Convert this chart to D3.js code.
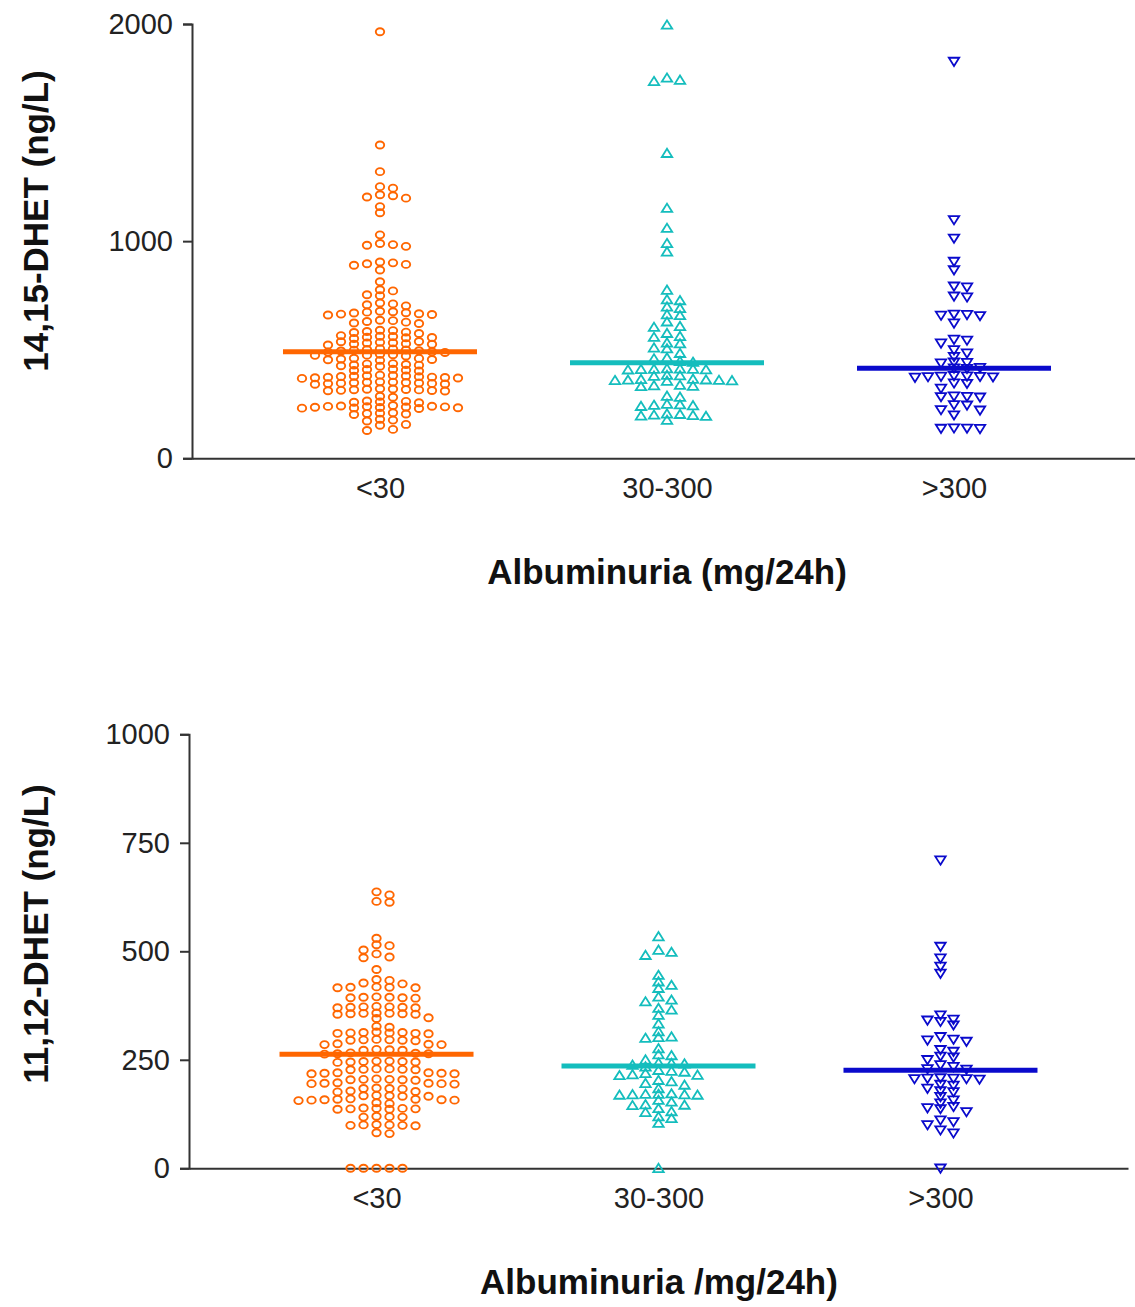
<!DOCTYPE html>
<html>
<head>
<meta charset="utf-8">
<script src="https://cdn.jsdelivr.net/npm/d3@7"></script>
<style>
  body { margin: 0; background: #fff; }
  svg { display: block; }
  .axis path, .axis line { stroke: #333; stroke-width: 2; }
  .axis text { font-family: "Liberation Sans", Arial, sans-serif; font-size: 29px; fill: #222; }
  .title { font-family: "Liberation Sans", Arial, sans-serif; font-size: 35px; font-weight: bold; fill: #111; }
</style>
</head>
<body>
<div id="chart"></div>
<script>
// groups on the x axis
const cats = ["<30", "30-300", ">300"];

// 14,15-DHET (ng/L)
const dhet1415Lt30 = [
  1964, 1443, 1320, 1251, 1244, 1214, 1209, 1203, 1198, 1159, 1131, 1029,
  989, 984, 981, 976, 904, 900, 896, 893, 889, 867, 813, 776, 771, 753, 749,
  715, 711, 707, 702,
  677, 675, 673, 670, 669, 666, 664, 662, 660,
  636, 634, 630, 627, 623, 621,
  590, 588, 584, 581, 579, 575,
  565, 562, 561, 558, 556, 555, 552,
  538, 537, 534, 532, 531, 528, 526, 525, 522,
  505, 504, 501, 499, 498, 495, 494, 491, 489, 487,
  479, 477, 475, 474, 471,
  461, 460, 457, 455, 454, 451,
  436, 435, 432, 430, 429, 426, 424,
  410, 409, 406, 404, 402,
  383, 381, 380, 379, 378, 377, 376, 374, 373, 372, 371, 370, 368,
  352, 351, 350, 349, 348, 347, 346, 345, 344, 342, 341,
  320, 319, 318, 317, 316, 315, 313, 312, 311, 310,
  286, 281,
  264, 262, 260, 258, 256,
  243, 241, 240, 239, 238, 237, 236, 235, 234, 233, 232, 231, 229,
  210, 208, 206, 204, 202,
  180, 176, 172,
  156, 152,
  133, 128
];
const dhet1415Mid = [
  1996, 1752, 1742, 1736, 1405, 1152, 1060, 990, 951, 775, 731, 727, 698, 691,
  662, 658, 629, 608, 604, 576, 562, 558, 532, 528, 509, 505, 484, 463, 459, 447, 443,
  413, 412, 411, 411, 410, 409, 408,
  383, 381, 379,
  365, 364, 362, 361, 360, 359, 358, 356,
  337, 335, 333, 331,
  287, 282,
  250, 247, 245, 243, 240,
  205, 203, 200, 198, 196, 194,
  176
];
const dhet1415Gt300 = [
  1827, 1098, 1013, 906, 867, 792, 788, 746, 742, 663, 661, 658, 656, 622,
  547, 543, 530, 499, 484, 468, 442, 440, 438, 417, 415, 413,
  380, 378, 377, 376, 375, 374, 372, 346, 344, 322,
  286, 284, 283, 281, 246, 244, 223, 221, 199, 139, 138, 137, 136
];
const median1415 = [491, 440, 415];
const ticks1415 = [0, 1000, 2000];

// 11,12-DHET (ng/L)
const dhet1112Lt30 = [
  637, 630, 615, 613, 530, 515, 513, 503, 494, 487, 485, 458,
  435, 433, 427, 425, 418, 417, 417, 416, 416,
  395, 394, 394, 393, 393, 392,
  373, 372, 372, 371, 371, 370, 370,
  358, 357, 357, 356, 356, 355, 355,
  347, 345, 327, 325,
  314, 313, 313, 312, 312, 311, 311, 310,
  297, 296, 296, 295, 295, 294,
  287, 286, 285, 285,
  274, 273, 272, 272,
  266, 265, 264, 264, 263,
  247, 247, 246, 246, 245, 245, 244,
  229, 229, 228, 228, 227, 227,
  220, 220, 219, 219, 218, 218,
  206, 205, 205, 204, 204, 203,
  197, 196, 196, 195, 195, 194,
  185, 184, 184, 183,
  178, 177, 176,
  168, 167, 167, 166, 166,
  160, 159, 159, 158, 158, 157, 157, 156,
  151, 149,
  139, 138, 138, 137, 137, 136, 136,
  120, 119, 118, 118,
  101, 100, 100, 99, 99, 98,
  82, 80,
  0, 0, 0, 0, 0
];
const dhet1112Mid = [
  534, 503, 498, 491, 445, 430, 422, 415, 395, 388, 384, 369, 365, 353, 333,
  315, 303, 302, 300, 276, 262, 260, 250, 243, 242, 241, 238, 234,
  226, 224, 222, 219, 216, 215, 214, 203, 200, 196, 192, 184,
  172, 171, 171, 170, 170, 169, 169, 157, 153, 147, 146, 145, 138,
  131, 129, 119, 115, 104, 0
];
const dhet1112Gt300 = [
  710, 511, 484, 465, 449, 353, 343, 341, 338, 330, 303, 297, 295, 292,
  273, 269, 258, 256, 250, 238, 234, 229, 228, 208, 207, 207, 206, 206, 205,
  193, 191, 184, 178, 176, 165, 157, 150, 142, 139, 137, 130,
  111, 107, 100, 88, 81, 0
];
const median1112 = [263, 236, 226];
const ticks1112 = [0, 250, 500, 750, 1000];

const colors = ["#FF6600", "#14BDBD", "#0A0ACC"];

const svg = d3.select("#chart").append("svg")
  .attr("width", 1135)
  .attr("height", 1307);

// simple column swarm: each point goes to the nearest free slot left/right of the centre
function swarm(values, yScale, cx, spacing, minDy) {
  const placed = [];
  return values.slice().sort((a, b) => b - a).map((v) => {
    const py = yScale(v);
    let k = 0;
    for (let i = 0; ; i++) {
      k = i === 0 ? 0 : (i % 2 ? Math.ceil(i / 2) : -i / 2);
      if (!placed.some((p) => p.k === k && Math.abs(p.py - py) < minDy)) break;
    }
    placed.push({ k, py });
    return { v, x: cx + k * spacing, y: py };
  });
}

function markerPath(type) {
  if (type === "up") return "M0,-4.5L5.2,3.8L-5.2,3.8Z";
  return "M0,4.5L5.2,-3.8L-5.2,-3.8Z";
}

function drawPanel(p) {
  const x = d3.scalePoint().domain(cats).range([p.x0, p.x1]).padding(p.pad);
  const y = d3.scaleLinear().domain([0, p.max]).range([p.y0, p.y1]);
  const g = svg.append("g");

  g.append("g")
    .attr("class", "axis")
    .attr("transform", `translate(${p.x0},0)`)
    .call(d3.axisLeft(y).tickValues(p.ticks).tickSize(9).tickPadding(10).tickFormat(d3.format("d")));

  g.append("g")
    .attr("class", "axis")
    .attr("transform", `translate(0,${p.y0})`)
    .call(d3.axisBottom(x).tickSize(0).tickPadding(19));

  p.series.forEach((vals, i) => {
    const pts = swarm(vals, y, x(cats[i]), 13, 5.6);
    const grp = g.append("g");
    if (i === 0) {
      grp.selectAll("ellipse").data(pts).enter().append("ellipse")
        .attr("cx", (d) => d.x)
        .attr("cy", (d) => d.y)
        .attr("rx", 4.2)
        .attr("ry", 3.5)
        .attr("fill", "none")
        .attr("stroke", colors[i])
        .attr("stroke-width", 1.9);
    } else {
      grp.selectAll("path").data(pts).enter().append("path")
        .attr("transform", (d) => `translate(${d.x},${d.y})`)
        .attr("d", markerPath(i === 1 ? "up" : "down"))
        .attr("fill", "none")
        .attr("stroke", colors[i])
        .attr("stroke-width", 1.8);
    }
  });

  // median lines
  g.selectAll(".median").data(p.medians).enter().append("line")
    .attr("x1", (d, i) => x(cats[i]) - 97)
    .attr("x2", (d, i) => x(cats[i]) + 97)
    .attr("y1", (d) => y(d))
    .attr("y2", (d) => y(d))
    .attr("stroke", (d, i) => colors[i])
    .attr("stroke-width", 5);

  g.append("text")
    .attr("class", "title")
    .attr("x", p.xTitleX)
    .attr("y", p.xTitleY)
    .attr("text-anchor", "middle")
    .text(p.xTitle);

  g.append("text")
    .attr("class", "title")
    .attr("transform", `translate(48,${p.yTitleY}) rotate(-90)`)
    .attr("text-anchor", "middle")
    .text(p.yTitle);
}

drawPanel({
  x0: 192, x1: 1142, pad: 0.655,
  y0: 458.3, y1: 24, max: 2000,
  ticks: ticks1415,
  series: [dhet1415Lt30, dhet1415Mid, dhet1415Gt300],
  medians: median1415,
  xTitle: "Albuminuria (mg/24h)", xTitleX: 667, xTitleY: 584,
  yTitle: "14,15-DHET (ng/L)", yTitleY: 221
});

drawPanel({
  x0: 189, x1: 1128, pad: 0.665,
  y0: 1168.3, y1: 734.3, max: 1000,
  ticks: ticks1112,
  series: [dhet1112Lt30, dhet1112Mid, dhet1112Gt300],
  medians: median1112,
  xTitle: "Albuminuria /mg/24h)", xTitleX: 659, xTitleY: 1294,
  yTitle: "11,12-DHET (ng/L)", yTitleY: 934
});
</script>
</body>
</html>
